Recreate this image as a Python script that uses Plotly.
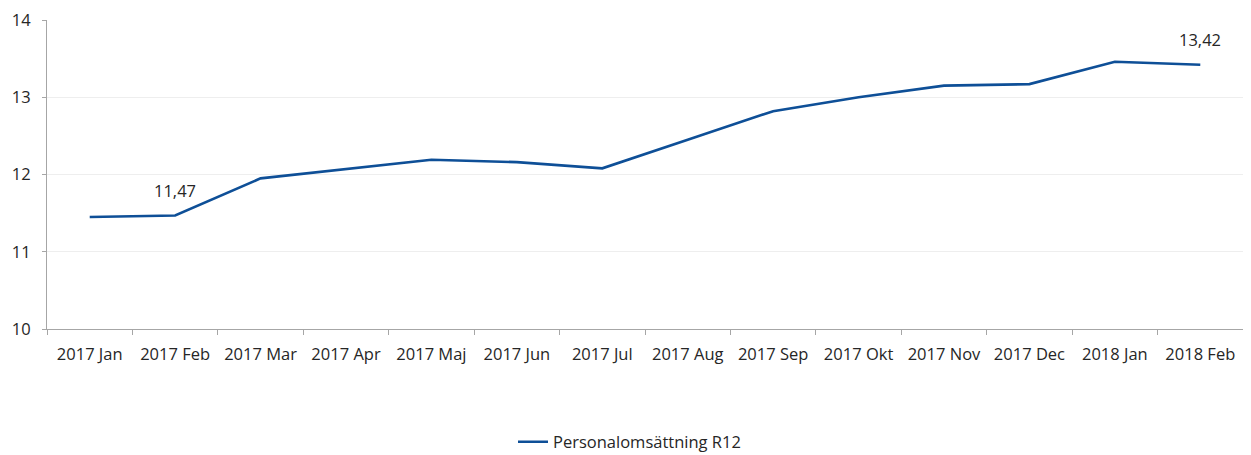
import plotly.graph_objects as go

months = ["2017 Jan", "2017 Feb", "2017 Mar", "2017 Apr", "2017 Maj", "2017 Jun", "2017 Jul",
          "2017 Aug", "2017 Sep", "2017 Okt", "2017 Nov", "2017 Dec", "2018 Jan", "2018 Feb"]
values = [11.45, 11.47, 11.95, 12.07, 12.19, 12.16, 12.08, 12.45, 12.82, 13.00, 13.15, 13.17, 13.46, 13.42]
labelled = ["2017 Feb", "2018 Feb"]
series_name = "Personalomsättning R12"

font_family = "Open Sans, Noto Sans, sans-serif"
text_color = "#262626"

fig = go.Figure()
fig.add_trace(go.Scatter(
    x=months, y=values, mode="lines", name=series_name,
    line=dict(color="#0e4f97", width=2.6),
))

for m, v in zip(months, values):
    if m in labelled:
        fig.add_annotation(
            x=m, y=v, text=f"{v:.2f}".replace(".", ","), showarrow=False,
            yanchor="middle", yshift=25,
            font=dict(size=16.5, color=text_color, family=font_family),
        )

# page body has an 8px margin, so the figure is sized to fit the window
fig.update_layout(
    width=1243, height=447,
    margin=dict(l=39, r=8, t=12, b=126),
    paper_bgcolor="white", plot_bgcolor="white",
    font=dict(family=font_family, size=16.5, color=text_color),
    showlegend=True,
    legend=dict(orientation="h", x=0.5, xanchor="center", xref="container",
                y=0.029, yanchor="middle", yref="container",
                font=dict(size=16.5, color=text_color)),
    xaxis=dict(
        type="category", tickson="boundaries", ticks="outside", ticklen=5,
        tickcolor="#a6a6a6", showline=True, linecolor="#a6a6a6", linewidth=1,
        showgrid=False, tickfont=dict(size=16.5, color=text_color),
        range=[-0.5, 13.5], automargin=False, ticklabelstandoff=10,
        ticklabeloverflow="allow",
    ),
    yaxis=dict(
        range=[10, 14], dtick=1, ticks="outside", ticklen=4, tickcolor="#a6a6a6",
        showline=True, linecolor="#a6a6a6", linewidth=1,
        showgrid=True, gridcolor="#eeeeee", gridwidth=1,
        tickfont=dict(size=16.5, color=text_color), zeroline=False,
        automargin=False, ticklabelstandoff=8, ticklabeloverflow="allow",
    ),
)

fig.write_html("out.html")
